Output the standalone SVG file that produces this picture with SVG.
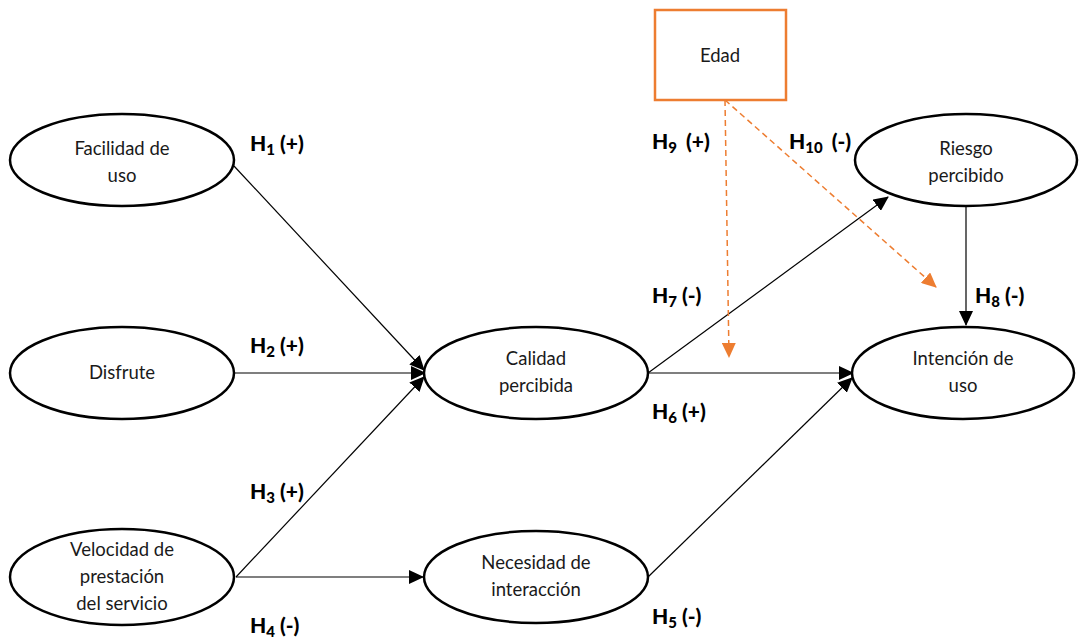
<svg xmlns="http://www.w3.org/2000/svg" width="1081" height="642" viewBox="0 0 1081 642">
<style>
.node ellipse{fill:#fff;stroke:#000;stroke-width:2.5}
.t{font-family:Lato,"Open Sans","Liberation Sans",sans-serif;font-size:18.5px;fill:#1a1a1a;text-anchor:middle}
.h{font-family:Lato,"Open Sans","Liberation Sans",sans-serif;font-size:21px;font-weight:900;fill:#000}
.s{font-size:15px}
.c{stroke:#000;stroke-width:1.2;fill:none;marker-end:url(#ab)}
.o{stroke:#ED7D31;stroke-width:1.5;fill:none;stroke-dasharray:6 4;marker-end:url(#ao)}
</style>
<defs>
<marker id="ab" markerWidth="16" markerHeight="14" refX="14" refY="7" orient="auto" markerUnits="userSpaceOnUse"><path d="M0,0 L15,7 L0,14 Z" fill="#000"/></marker>
<marker id="ao" markerWidth="16" markerHeight="14" refX="14" refY="7" orient="auto" markerUnits="userSpaceOnUse"><path d="M0,0 L15,7 L0,14 Z" fill="#ED7D31"/></marker>
</defs>
<rect width="1081" height="642" fill="#fff"/>
<g id="connectors">
<line class="c" x1="234" y1="166" x2="424" y2="370"/>
<line class="c" x1="234" y1="373" x2="425" y2="373"/>
<line class="c" x1="236" y1="577" x2="424" y2="377"/>
<line class="c" x1="236" y1="577" x2="423" y2="577"/>
<line class="c" x1="648" y1="373" x2="888" y2="197"/>
<line class="c" x1="648" y1="373" x2="853" y2="373"/>
<line class="c" x1="648" y1="577" x2="852" y2="378"/>
<line class="c" x1="966" y1="205" x2="966" y2="325"/>
<line class="o" x1="725" y1="100" x2="729" y2="357"/>
<line class="o" x1="725" y1="100" x2="936" y2="287"/>
</g>
<g id="edad"><rect x="655" y="10" width="131" height="90" fill="#fff" stroke="#ED7D31" stroke-width="2.5"/><text class="t" x="720" y="62">Edad</text></g>
<g id="facilidad" class="node"><ellipse cx="122" cy="160" rx="112" ry="46"/><text class="t" x="122" y="155">Facilidad de</text><text class="t" x="122" y="182">uso</text></g>
<g id="disfrute" class="node"><ellipse cx="122" cy="373" rx="112" ry="46"/><text class="t" x="122" y="379">Disfrute</text></g>
<g id="velocidad" class="node"><ellipse cx="122" cy="577" rx="112" ry="48"/><text class="t" x="122" y="556">Velocidad de</text><text class="t" x="122" y="583">prestación</text><text class="t" x="122" y="610">del servicio</text></g>
<g id="calidad" class="node"><ellipse cx="536" cy="373" rx="112" ry="46"/><text class="t" x="536" y="365">Calidad</text><text class="t" x="536" y="392">percibida</text></g>
<g id="necesidad" class="node"><ellipse cx="536" cy="577" rx="112" ry="46"/><text class="t" x="536" y="569">Necesidad de</text><text class="t" x="536" y="596">interacción</text></g>
<g id="riesgo" class="node"><ellipse cx="966" cy="160" rx="111" ry="46"/><text class="t" x="966" y="155">Riesgo</text><text class="t" x="966" y="182">percibido</text></g>
<g id="intencion" class="node"><ellipse cx="963" cy="373" rx="111" ry="46"/><text class="t" x="963" y="365">Intención de</text><text class="t" x="963" y="392">uso</text></g>
<g id="labels">
<text class="h" x="250" y="151">H<tspan class="s" dy="4">1</tspan><tspan dy="-4"> (+)</tspan></text>
<text class="h" x="250" y="353">H<tspan class="s" dy="4">2</tspan><tspan dy="-4"> (+)</tspan></text>
<text class="h" x="250" y="499">H<tspan class="s" dy="4">3</tspan><tspan dy="-4"> (+)</tspan></text>
<text class="h" x="250" y="633">H<tspan class="s" dy="4">4</tspan><tspan dy="-4"> (-)</tspan></text>
<text class="h" x="652" y="624">H<tspan class="s" dy="4">5</tspan><tspan dy="-4"> (-)</tspan></text>
<text class="h" x="652" y="419">H<tspan class="s" dy="4">6</tspan><tspan dy="-4"> (+)</tspan></text>
<text class="h" x="652" y="303">H<tspan class="s" dy="4">7</tspan><tspan dy="-4"> (-)</tspan></text>
<text class="h" x="975" y="303">H<tspan class="s" dy="4">8</tspan><tspan dy="-4"> (-)</tspan></text>
<text class="h" x="652" y="149">H<tspan class="s" dy="4">9</tspan><tspan dy="-4" dx="4"> (+)</tspan></text>
<text class="h" x="789" y="149">H<tspan class="s" dy="4">10</tspan><tspan dy="-4" dx="4"> (-)</tspan></text>
</g>
</svg>
